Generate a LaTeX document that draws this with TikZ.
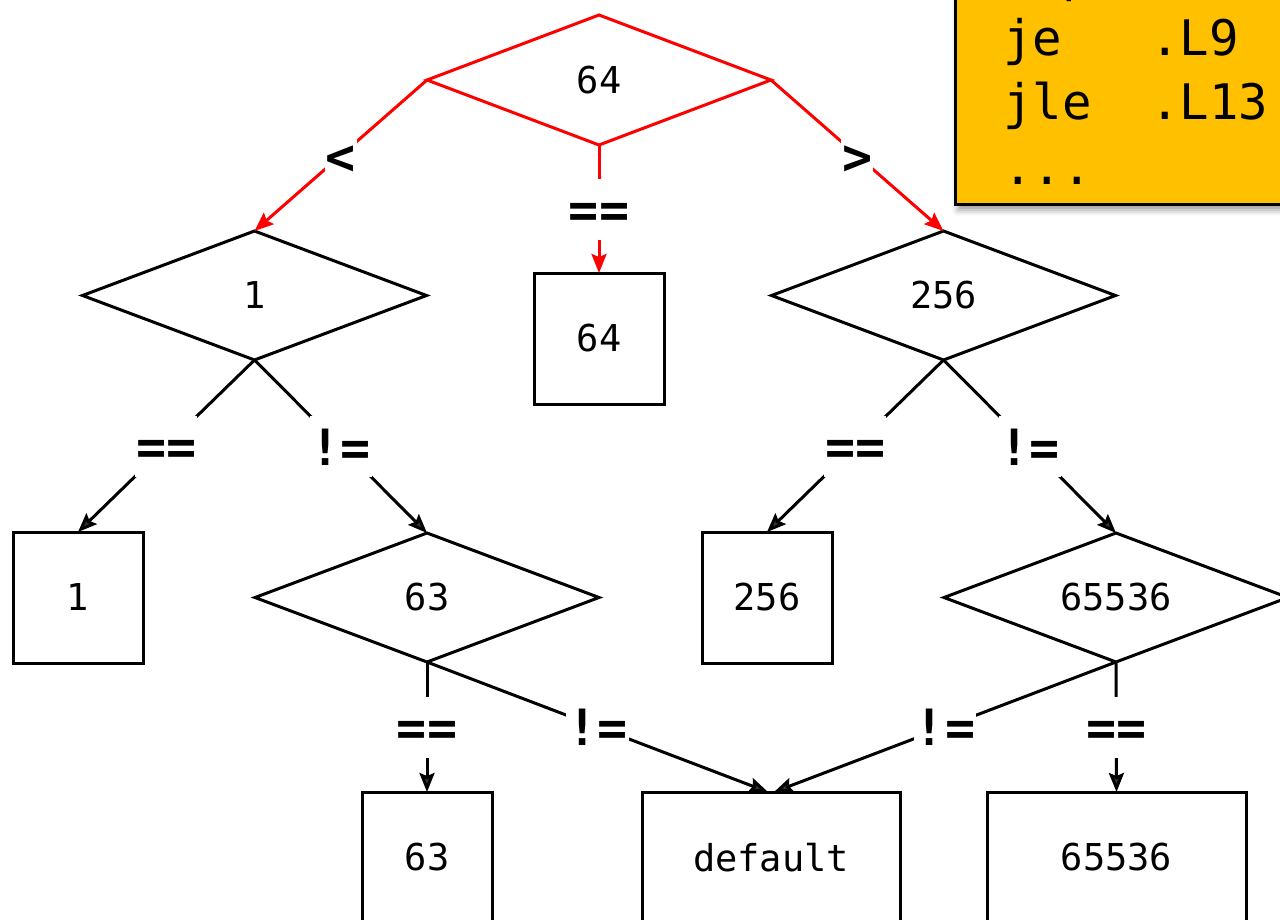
\documentclass[tikz,border=0pt]{standalone}
\usepackage{fontspec}
\setmainfont{DejaVu Sans Mono}
\setmonofont{DejaVu Sans Mono}
\usetikzlibrary{shapes.geometric,arrows.meta,shadows.blur}
\definecolor{gold}{HTML}{FFC000}
\begin{document}
\begin{tikzpicture}[x=1pt,y=-1pt,
  every node/.style={outer sep=0pt},
  lw/.style={line width=3pt},
  dia/.style={diamond, shape aspect=2.667, draw, lw, minimum width=344pt, minimum height=129pt, inner sep=0pt, font=\fontsize{37}{44}\selectfont},
  box/.style={rectangle, draw, lw, minimum width=130pt, minimum height=131pt, inner sep=0pt, font=\fontsize{37}{44}\selectfont},
  op/.style={fill=white, inner xsep=1pt, inner ysep=6pt, text height=43pt, text depth=6pt, font=\fontsize{50}{60}\selectfont\bfseries, text=black},
  arr/.style={lw, -{Stealth[length=19pt,width=15pt,inset=3pt]}},
  code/.style={anchor=base west, inner sep=0pt, font=\fontsize{49}{64}\selectfont}
]
\useasboundingbox (0,0) rectangle (1280,919);

% code box
\path[fill=gold, draw=black, lw, blur shadow={shadow xshift=3pt, shadow yshift=-6pt, shadow blur radius=6pt, shadow opacity=40}] (955,-80) rectangle (1330,204);
\node[code] (c0) at (1003,-9) {cmp};
\node[code] (c1) at (1003,55) {je\ \ \ .L9};
\node[code] (c2) at (1003,119) {jle\ \ .L13};
\node[code] (c3) at (1003,184) {...};

% decision nodes
\node[dia, draw=red, minimum height=130pt] (d64) at (599,80) {64};
\node[dia] (d1) at (254.5,295.5) {1};
\node[dia] (d256) at (943.5,295.5) {256};
\node[dia] (d63) at (427,597.5) {63};
\node[dia] (d65536) at (1116,597.5) {65536};

% result boxes
\node[box] (b64) at (599,338.5) {64};
\node[box] (b1) at (78,597.5) {1};
\node[box] (b256) at (767,597.5) {256};
\node[box] (b63) at (427,857.5) {63};
\node[box, minimum width=258pt] (bdef) at (771,857.5) {default};
\node[box, minimum width=259pt] (b65536) at (1116.5,857.5) {65536};

% connectors
\draw[arr, red] (d64.west) -- node[op]{<} (d1.north);
\draw[arr, red] (d64.east) -- node[op]{>} (d256.north);
\draw[arr, red] (d64.south) -- node[op]{==} (b64.north);

\draw[arr] (d1.south) -- node[op]{==} (b1.north);
\draw[arr] (d1.south) -- node[op]{!=} (d63.north);
\draw[arr] (d256.south) -- node[op]{==} (b256.north);
\draw[arr] (d256.south) -- node[op]{!=} (d65536.north);

\draw[arr] (d63.south) -- node[op]{==} (b63.north);
\draw[arr] (d63.south) -- node[op]{!=} ([xshift=-3pt]bdef.north);
\draw[arr] (d65536.south) -- node[op]{!=} ([xshift=3pt]bdef.north);
\draw[arr] (d65536.south) -- node[op]{==} (b65536.north);
\end{tikzpicture}
\end{document}
